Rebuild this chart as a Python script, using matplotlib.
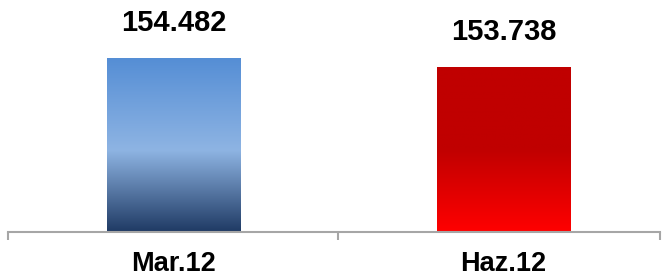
import matplotlib.pyplot as plt
import numpy as np
from matplotlib.colors import LinearSegmentedColormap

categories = ['Mar.12', 'Haz.12']
values = [154.482, 153.738]
value_labels = ['154.482', '153.738']

plt.rcParams['font.family'] = ['Liberation Sans', 'DejaVu Sans']

fig = plt.figure(figsize=(6.62, 2.80), dpi=100)
ax = fig.add_axes([8 / 662, 48 / 280, 652 / 662, 222 / 280])

base = 140
ax.set_ylim(base, 158.48)
ax.set_xlim(-0.501, 1.474)

# gradient fills, top -> bottom
blue = LinearSegmentedColormap.from_list('b', [(0, '#558ED5'), (0.53, '#8EB4E3'), (1, '#1F3A64')])
red = LinearSegmentedColormap.from_list('r', [(0, '#C00000'), (0.5, '#C00000'), (1, '#FF0000')])
cmaps = [blue, red]

bars = ax.bar(range(len(values)), [v - base for v in values], bottom=base, width=0.403,
              color='none', edgecolor='none')
grad = np.linspace(0, 1, 256).reshape(-1, 1)
for bar, cm in zip(bars, cmaps):
    x0, y0 = bar.get_x(), bar.get_y()
    w, h = bar.get_width(), bar.get_height()
    im = ax.imshow(grad, cmap=cm, aspect='auto', extent=(x0, x0 + w, y0, y0 + h),
                   origin='upper', zorder=2)
    im.set_clip_path(bar)

for i, (v, lab) in enumerate(zip(values, value_labels)):
    ax.annotate(lab, (i, v), xytext=(0, 25), textcoords='offset points',
                ha='center', va='center', fontsize=21, fontweight='bold',
                annotation_clip=False)

for s in ['top', 'right', 'left']:
    ax.spines[s].set_visible(False)
ax.spines['bottom'].set_color('#A6A6A6')
ax.spines['bottom'].set_linewidth(1.5)
ax.set_yticks([])

ax.set_xticks(range(len(categories)))
ax.set_xticklabels(categories, fontsize=19.5, fontweight='bold')
ax.tick_params(axis='x', which='major', length=0, pad=14)
ax.set_xticks([-0.501, 0.5, 1.474], minor=True)
ax.tick_params(axis='x', which='minor', length=6, width=1.5, color='#A6A6A6', direction='out')

fig.savefig('out.png', dpi=100)
